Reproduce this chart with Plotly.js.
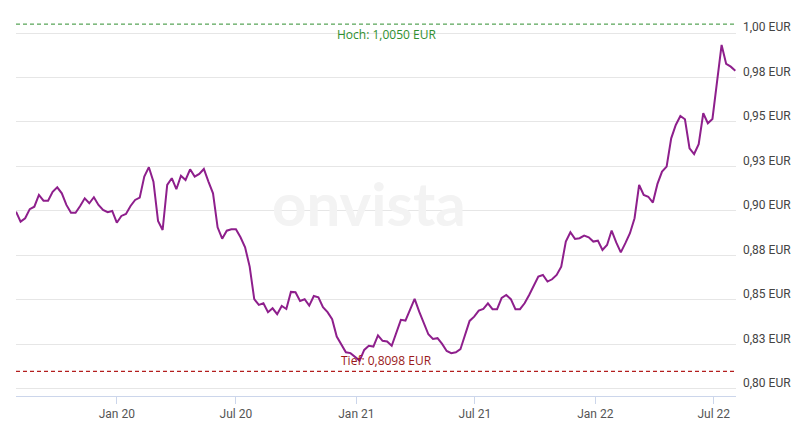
<!DOCTYPE html>
<html>
<head>
<meta charset="utf-8">
<script src="https://cdn.plot.ly/plotly-3.0.1.min.js"></script>
<style>html,body{margin:0;padding:0;background:#fff;}#chart{width:808px;height:426px;}</style>
</head>
<body>
<div id="chart"></div>
<script>
const dates = [
"2019-07-31","2019-08-07","2019-08-14","2019-08-21","2019-08-28","2019-09-04","2019-09-11","2019-09-18","2019-09-25","2019-10-02","2019-10-09","2019-10-16","2019-10-23","2019-10-30","2019-11-06","2019-11-13","2019-11-20","2019-11-27","2019-12-04","2019-12-11","2019-12-18","2019-12-25",
"2020-01-01","2020-01-08","2020-01-15","2020-01-22","2020-01-29","2020-02-05","2020-02-12","2020-02-19","2020-02-26","2020-03-04","2020-03-11","2020-03-18","2020-03-25","2020-04-01","2020-04-08","2020-04-15","2020-04-22","2020-04-29","2020-05-06","2020-05-13","2020-05-20","2020-05-27","2020-06-03","2020-06-10","2020-06-17","2020-06-24","2020-07-01","2020-07-08","2020-07-15","2020-07-22","2020-07-29","2020-08-05","2020-08-12","2020-08-19","2020-08-26","2020-09-02","2020-09-09","2020-09-16","2020-09-23","2020-09-30","2020-10-07","2020-10-14","2020-10-21","2020-10-28","2020-11-04","2020-11-11","2020-11-18","2020-11-25","2020-12-02","2020-12-09","2020-12-16","2020-12-23","2020-12-30",
"2021-01-06","2021-01-13","2021-01-20","2021-01-27","2021-02-03","2021-02-10","2021-02-17","2021-02-24","2021-03-03","2021-03-10","2021-03-17","2021-03-24","2021-03-31","2021-04-07","2021-04-14","2021-04-21","2021-04-28","2021-05-05","2021-05-12","2021-05-19","2021-05-26","2021-06-02","2021-06-09","2021-06-16","2021-06-23","2021-06-30","2021-07-07","2021-07-14","2021-07-21","2021-07-28","2021-08-04","2021-08-11","2021-08-18","2021-08-25","2021-09-01","2021-09-08","2021-09-15","2021-09-22","2021-09-29","2021-10-06","2021-10-13","2021-10-20","2021-10-27","2021-11-03","2021-11-10","2021-11-17","2021-11-24","2021-12-01","2021-12-08","2021-12-15","2021-12-22","2021-12-29",
"2022-01-05","2022-01-12","2022-01-19","2022-01-26","2022-02-02","2022-02-09","2022-02-16","2022-02-23","2022-03-02","2022-03-09","2022-03-16","2022-03-23","2022-03-30","2022-04-06","2022-04-13","2022-04-20","2022-04-27","2022-05-04","2022-05-11","2022-05-18","2022-05-25","2022-06-01","2022-06-08","2022-06-15","2022-06-22","2022-06-29","2022-07-06","2022-07-13","2022-07-20","2022-07-27","2022-08-03"
];

const rates = [
0.8996,0.8940,0.8959,0.9010,0.9024,0.9090,0.9058,0.9058,0.9108,0.9133,0.9099,0.9034,0.8990,0.8990,0.9028,0.9071,0.9043,0.9077,0.9034,0.9006,0.8993,0.9000,
0.8934,0.8972,0.8983,0.9028,0.9062,0.9075,
0.9193,0.9246,0.9165,0.8944,0.8893,0.9146,0.9184,0.9122,0.9198,0.9174,0.9234,0.9193,0.9208,0.9236,0.9165,0.9099,0.8908,0.8844,0.8889,0.8897,0.8897,0.8852,0.8796,0.8687,0.8504,0.8472,
0.8481,0.8431,0.8453,0.8420,0.8466,0.8449,0.8545,0.8543,0.8494,0.8504,0.8468,0.8522,0.8515,0.8459,0.8431,0.8392,0.8294,0.8253,0.8206,0.8201,0.8178,0.8159,0.8219,0.8242,0.8238,0.8301,
0.8270,0.8266,0.8242,0.8313,0.8388,0.8384,0.8448,0.8506,0.8434,0.8369,0.8307,0.8281,0.8285,0.8253,0.8213,0.8201,0.8206,0.8223,0.8298,0.8382,0.8406,0.8440,0.8449,0.8481,0.8448,0.8448,0.8511,
0.8528,0.8504,0.8448,0.8448,0.8481,0.8528,0.8579,0.8631,0.8640,0.8603,0.8616,0.8640,0.8687,0.8828,0.8880,0.8843,0.8847,0.8861,0.8852,0.8828,0.8833,0.8781,0.8809,0.8890,0.8823,0.8767,
0.8819,0.8875,0.8959,0.9146,0.9090,0.9080,0.9047,0.9152,0.9221,0.9249,0.9408,0.9483,0.9534,0.9515,0.9352,0.9320,0.9375,0.9549,0.9493,0.9517,0.9726,0.9933,0.9826,0.9811,0.9788
];

const yTickVals = [0.800, 0.825, 0.850, 0.875, 0.900, 0.925, 0.950, 0.975, 1.000];
const yTickText = ["0,80 EUR","0,83 EUR","0,85 EUR","0,88 EUR","0,90 EUR","0,93 EUR","0,95 EUR","0,98 EUR","1,00 EUR"];

const highValue = 1.0050;
const lowValue = 0.8098;
const highLabel = "Hoch: 1,0050 EUR";
const lowLabel = "Tief: 0,8098 EUR";

const trace = {
  x: dates, y: rates, type: 'scatter', mode: 'lines',
  line: {color: '#8e1f8c', width: 2},
  hoverinfo: 'skip'
};

const layout = {
  width: 808, height: 426,
  margin: {l: 16, r: 72, t: 17, b: 30},
  paper_bgcolor: '#ffffff', plot_bgcolor: '#ffffff',
  showlegend: false,
  hovermode: false,
  font: {family: 'Roboto, "Open Sans", sans-serif', color: '#444'},
  xaxis: {
    type: 'date',
    range: ['2019-07-31', '2022-08-04'],
    tick0: '2020-01-01', dtick: 'M6', tickformat: '%b %y',
    showgrid: false, zeroline: false,
    showline: true, linecolor: '#ccd6eb', linewidth: 1,
    ticks: 'outside', ticklen: 7, tickcolor: '#ccd6eb', tickwidth: 1,
    tickfont: {size: 12, color: '#555'}
  },
  yaxis: {
    side: 'right',
    range: [0.796, 1.009],
    tickvals: yTickVals, ticktext: yTickText,
    showgrid: true, gridcolor: '#e6e6e6', gridwidth: 1,
    zeroline: false, showline: false, ticks: '',
    ticklabelshift: -6, ticklabelstandoff: 6,
    tickfont: {size: 12, color: '#444'}
  },
  shapes: [
    {type: 'line', xref: 'paper', x0: 0, x1: 1, yref: 'y', y0: highValue, y1: highValue,
     line: {color: '#2f8f2f', width: 1, dash: '4px,3px'}},
    {type: 'line', xref: 'paper', x0: 0, x1: 1, yref: 'y', y0: lowValue, y1: lowValue,
     line: {color: '#b31e1e', width: 1.2, dash: '4px,3px'}}
  ],
  annotations: [
    {text: 'onvista', xref: 'paper', yref: 'paper', x: 0.49, y: 0.51, showarrow: false,
     font: {family: 'Lato, "Open Sans", sans-serif', size: 60, color: '#f3f3f3', weight: 'bold'}},
    {text: highLabel, xref: 'paper', x: 0.515, yref: 'y', y: highValue, yanchor: 'top', yshift: 0,
     showarrow: false, font: {family: '"Open Sans", sans-serif', size: 12, color: '#2f8f2f'}},
    {text: lowLabel, xref: 'paper', x: 0.515, yref: 'y', y: lowValue, yanchor: 'bottom', yshift: 0,
     showarrow: false, font: {family: '"Open Sans", sans-serif', size: 12, color: '#9a1a1a'}}
  ]
};

Plotly.newPlot('chart', [trace], layout, {displayModeBar: false, staticPlot: true});
</script>
</body>
</html>
